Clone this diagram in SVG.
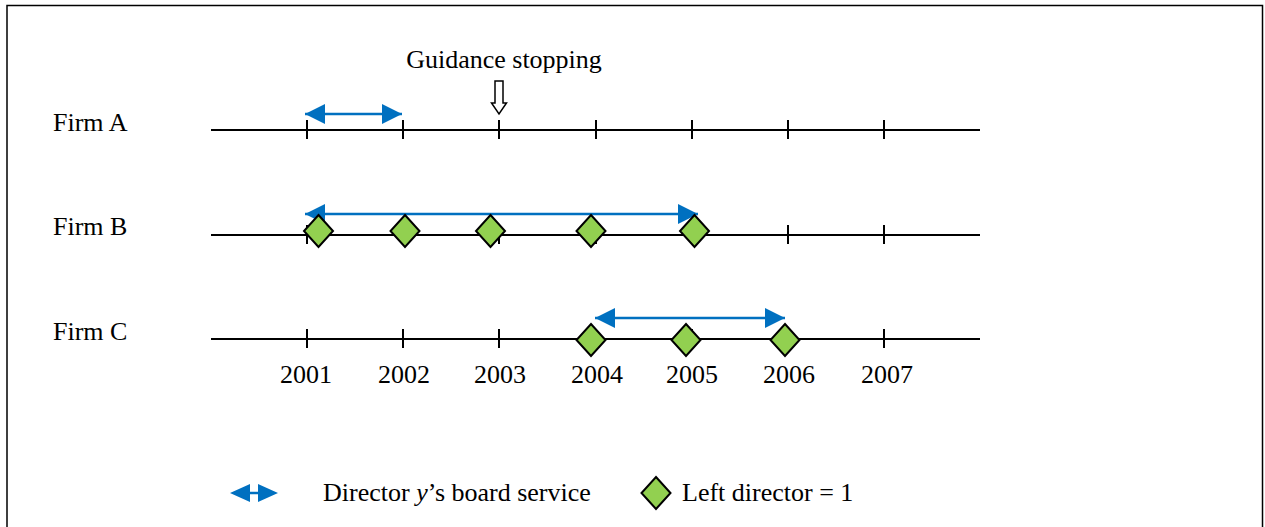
<svg xmlns="http://www.w3.org/2000/svg" width="1265" height="527" viewBox="0 0 1265 527">
<defs>
<style>
.t{font-family:"Liberation Serif","Times New Roman",serif;font-size:26px;fill:#000}
.tl{stroke:#000;stroke-width:2;fill:none}
.tk{stroke:#000;stroke-width:2}
.ar{stroke:#0070C0;stroke-width:2.5;fill:none}
.dm{fill:#92D050;stroke:#000;stroke-width:2;stroke-linejoin:miter}
</style>
<marker id="ah" viewBox="0 0 20 20" refX="20" refY="10" markerWidth="20" markerHeight="20" markerUnits="userSpaceOnUse" orient="auto-start-reverse">
<path d="M0,0 L20,10 L0,20 Z" fill="#0070C0"/>
</marker>
<path id="dia" d="M0,-16 L14.5,0 L0,16 L-14.5,0 Z"/>
</defs>
<rect x="7" y="5.5" width="1255.5" height="540" fill="#fff" stroke="#000" stroke-width="1.5"/>
<g id="labels">
<text class="t" x="53" y="131">Firm A</text>
<text class="t" x="53" y="235">Firm B</text>
<text class="t" x="53" y="340">Firm C</text>
<text class="t" x="504" y="68" text-anchor="middle">Guidance stopping</text>
</g>
<g id="years" class="t" text-anchor="middle">
<text x="306" y="383">2001</text>
<text x="404" y="383">2002</text>
<text x="500" y="383">2003</text>
<text x="597" y="383">2004</text>
<text x="692" y="383">2005</text>
<text x="789" y="383">2006</text>
<text x="887" y="383">2007</text>
</g>
<g id="timelineA">
<line class="tl" x1="211" y1="130" x2="980" y2="130"/>
<path class="tk" d="M307,120V139M403,120V139M499,120V139M596,120V139M692,120V139M788,120V139M884,120V139"/>
</g>
<g id="timelineB">
<line class="tl" x1="211" y1="235" x2="980" y2="235"/>
<path class="tk" d="M307,225V244M403,225V244M499,225V244M596,225V244M692,225V244M788,225V244M884,225V244"/>
</g>
<g id="timelineC">
<line class="tl" x1="211" y1="339" x2="980" y2="339"/>
<path class="tk" d="M307,329V348M403,329V348M499,329V348M596,329V348M692,329V348M788,329V348M884,329V348"/>
</g>
<g id="connectors">
<line class="ar" x1="305" y1="114" x2="402" y2="114" marker-start="url(#ah)" marker-end="url(#ah)"/>
<line class="ar" x1="305" y1="214" x2="698" y2="214" marker-start="url(#ah)" marker-end="url(#ah)"/>
<line class="ar" x1="595" y1="318" x2="785" y2="318" marker-start="url(#ah)" marker-end="url(#ah)"/>
</g>
<g id="guidance-arrow">
<path d="M495,81 H503 V103 H506.5 L499,114 L491.5,103 H495 Z" fill="#fff" stroke="#000" stroke-width="1.5"/>
</g>
<g id="diamondsB">
<use href="#dia" class="dm" x="318.5" y="231"/>
<use href="#dia" class="dm" x="405" y="231"/>
<use href="#dia" class="dm" x="490.5" y="231"/>
<use href="#dia" class="dm" x="591" y="231"/>
<use href="#dia" class="dm" x="694.5" y="231"/>
</g>
<g id="diamondsC">
<use href="#dia" class="dm" x="591" y="340"/>
<use href="#dia" class="dm" x="686" y="340"/>
<use href="#dia" class="dm" x="785" y="340"/>
</g>
<g id="legend">
<path d="M230,493 L250,484 V502 Z M278,493 L258,484 V502 Z" fill="#0070C0"/>
<line x1="249" y1="493" x2="259" y2="493" stroke="#0070C0" stroke-width="2.5"/>
<text class="t" x="323" y="501">Director <tspan font-style="italic">y</tspan>’s board service</text>
<use href="#dia" class="dm" x="656" y="493"/>
<text class="t" x="682" y="501">Left director = 1</text>
</g>
</svg>
